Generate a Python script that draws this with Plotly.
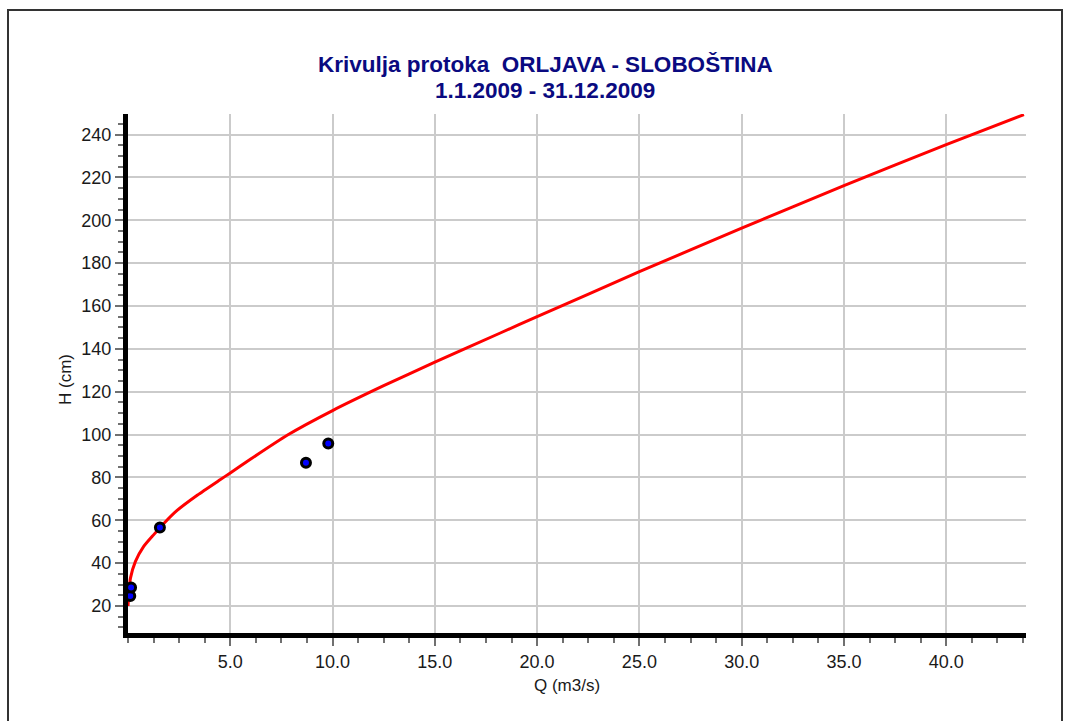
import plotly.graph_objects as go

# Rating curve
curve_q = [0.0, 0.04, 0.12, 0.36, 0.76, 1.25, 1.74, 2.4, 3.4, 4.5, 5.0, 6.0, 7.8,
           10.0, 12.5, 15.0, 18.2, 20.0, 25.0, 30.0, 35.0, 40.0, 43.8]
curve_h = [20.0, 26.0, 33.0, 40.7, 47.7, 53.2, 58.4, 64.6, 71.8, 78.9, 82.1, 88.6, 99.8,
           111.2, 122.8, 133.8, 147.4, 155.0, 176.0, 196.3, 216.2, 235.3, 249.3]

# Measured points
meas_q = [0.11, 0.15, 1.56, 8.70, 9.79]
meas_h = [24.7, 28.6, 56.6, 86.9, 95.8]

x_ticks = [5, 10, 15, 20, 25, 30, 35, 40]
y_ticks = [20, 40, 60, 80, 100, 120, 140, 160, 180, 200, 220, 240]

title_line1 = "Krivulja protoka \u00a0ORLJAVA - SLOBOŠTINA"
title_line2 = "1.1.2009 - 31.12.2009"

FONT = "Liberation Sans, Arial, sans-serif"
NAVY = "#0a0a80"
TXT = "#1a1a1a"

fig = go.Figure()
fig.add_trace(go.Scatter(x=curve_q, y=curve_h, mode="lines",
                         line=dict(color="#ff0000", width=3, shape="spline", smoothing=0.5),
                         hoverinfo="skip", showlegend=False))
fig.add_trace(go.Scatter(x=meas_q, y=meas_h, mode="markers",
                         marker=dict(color="#0000ff", size=9, line=dict(color="black", width=3)),
                         cliponaxis=False, showlegend=False))

W, H = 1068, 721
L, R, T, B = 128, 42, 114, 88
pw, ph = W - L - R, H - T - B

def px_x(p):
    return (p - L) / pw

def px_y(p):
    return (H - B - p) / ph

fig.update_layout(
    width=W, height=H,
    margin=dict(l=L, r=R, t=T, b=B),
    paper_bgcolor="white", plot_bgcolor="white",
    font=dict(family=FONT, size=18, color=TXT),
    xaxis=dict(range=[0, 43.9], tickvals=x_ticks, ticktext=[f"{v:.1f}" for v in x_ticks],
               showgrid=True, gridcolor="#cbcbcb", gridwidth=1.5,
               showline=True, linecolor="black", linewidth=5,
               ticks="outside", ticklen=8, tickwidth=2, tickcolor="#707070",
               minor=dict(dtick=1.25, tick0=0, ticks="outside", ticklen=5, tickwidth=2,
                          tickcolor="#707070", showgrid=False),
               zeroline=False, tickfont=dict(size=18, color=TXT)),
    yaxis=dict(range=[7.4, 249.6], tickvals=y_ticks,
               showgrid=True, gridcolor="#cbcbcb", gridwidth=1.5,
               showline=True, linecolor="black", linewidth=5,
               ticks="outside", ticklen=8, tickwidth=2, tickcolor="#707070",
               minor=dict(dtick=5, tick0=0, ticks="outside", ticklen=5, tickwidth=2,
                          tickcolor="#707070", showgrid=False),
               zeroline=False, tickfont=dict(size=18, color=TXT)),
    showlegend=False,
)

fig.add_annotation(text=f"<b>{title_line1}</b>", xref="paper", yref="paper",
                   x=px_x(545), y=px_y(64), xanchor="center", yanchor="middle",
                   showarrow=False, font=dict(family=FONT, size=22.5, color=NAVY))
fig.add_annotation(text=f"<b>{title_line2}</b>", xref="paper", yref="paper",
                   x=px_x(545), y=px_y(90), xanchor="center", yanchor="middle",
                   showarrow=False, font=dict(family=FONT, size=22.5, color=NAVY))
fig.add_annotation(text="Q (m3/s)", xref="paper", yref="paper",
                   x=px_x(567), y=px_y(685), xanchor="center", yanchor="middle",
                   showarrow=False, font=dict(family=FONT, size=17, color=TXT))
fig.add_annotation(text="H (cm)", xref="paper", yref="paper", textangle=-90,
                   x=px_x(65), y=px_y(380), xanchor="center", yanchor="middle",
                   showarrow=False, font=dict(family=FONT, size=17, color=TXT))

fig.add_shape(type="rect", xref="paper", yref="paper",
              x0=px_x(8), x1=px_x(1062), y0=px_y(730), y1=px_y(10),
              line=dict(color="#333333", width=2), fillcolor="rgba(0,0,0,0)", layer="below")

fig.write_html("out.html")
